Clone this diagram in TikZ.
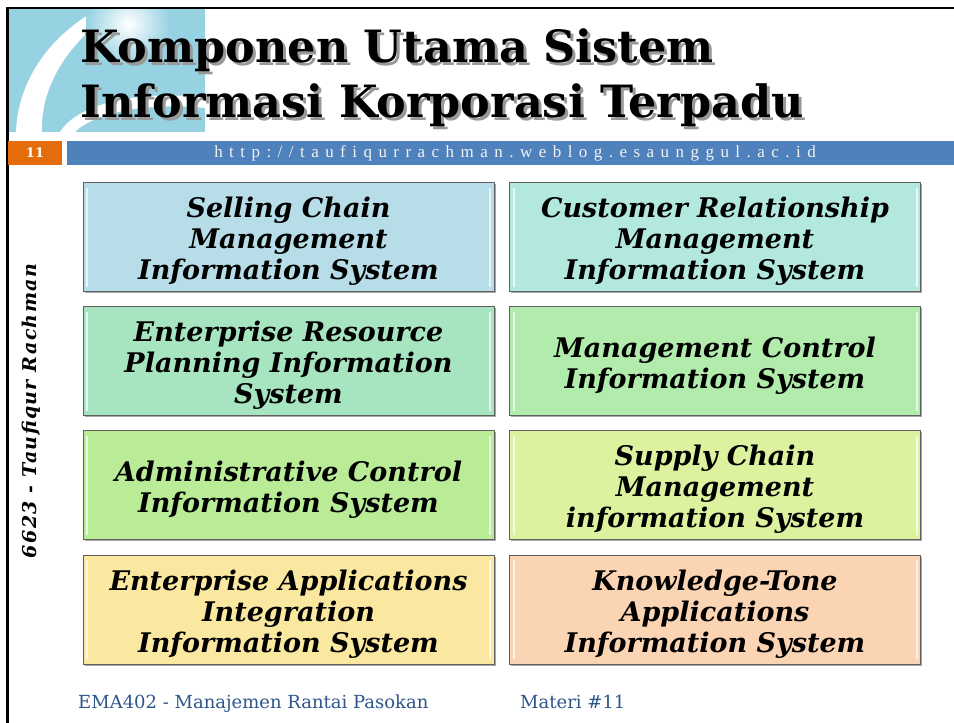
\documentclass[tikz,border=0pt]{standalone}
\usepackage{fontspec}
\usepackage{tikz}
\usetikzlibrary{shadows}

\newfontfamily\serifwide{DejaVu Serif}
\newfontfamily\authorfont[LetterSpace=7]{DejaVu Serif}
\newfontfamily\urlfont[LetterSpace=38]{Liberation Serif}
\newcommand\shadowtext[1]{\makebox[0pt][l]{\hspace{3pt}\raisebox{-3pt}{\textcolor{black!40}{#1}}}#1}

\definecolor{logoblue}{RGB}{150,210,226}
\definecolor{slideorange}{RGB}{228,108,10}
\definecolor{slideblue}{RGB}{79,129,189}
\definecolor{footblue}{RGB}{46,86,140}
\definecolor{boxedge}{RGB}{96,96,96}
\definecolor{cSCM}{RGB}{183,221,232}
\definecolor{cCRM}{RGB}{178,232,222}
\definecolor{cERP}{RGB}{166,229,192}
\definecolor{cMCIS}{RGB}{178,236,172}
\definecolor{cACIS}{RGB}{186,236,152}
\definecolor{cSupply}{RGB}{221,242,158}
\definecolor{cEAI}{RGB}{250,232,160}
\definecolor{cKnow}{RGB}{251,212,180}

\tikzset{
  sysbox/.style={draw=boxedge, line width=1pt, minimum width=411pt, minimum height=109pt,
    align=center, font={\serifwide\bfseries\itshape\fontsize{27}{31}\selectfont},
    drop shadow={shadow xshift=1.5pt, shadow yshift=-1.5pt, opacity=.35, fill=black},
    path picture={
      \draw[white, opacity=.7, line width=2pt]
        ([xshift=4pt,yshift=-5pt]path picture bounding box.north west) --
        ([xshift=4pt,yshift=5pt]path picture bounding box.south west);
      \draw[white, opacity=.7, line width=2pt]
        ([xshift=-4pt,yshift=-5pt]path picture bounding box.north east) --
        ([xshift=-4pt,yshift=5pt]path picture bounding box.south east);}},
  titletext/.style={anchor=base west, inner sep=0pt, font={\serifwide\bfseries\fontsize{44.5}{55}\selectfont}},
  foottext/.style={anchor=base west, inner sep=0pt, text=footblue, font={\serifwide\fontsize{18}{20}\selectfont}}
}

\begin{document}
\begin{tikzpicture}[x=1pt, y=-1pt]
  \useasboundingbox[fill=white] (0,0) rectangle (954,723);

  % logo
  \begin{scope}
    \clip (8,8) rectangle (205,132);
    \fill[logoblue] (8,8) rectangle (205,132);
    \fill[white] (16,132) .. controls (18,80) and (50,35) .. (100,8)
      -- (118,8) .. controls (70,40) and (40,85) .. (42,132) -- cycle;
    \shade[inner color=white, outer color=logoblue] (128,24) circle (42);
    \fill[white] (60,132) .. controls (80,100) and (150,90) .. (205,98)
      -- (205,108) .. controls (150,102) and (95,112) .. (75,132) -- cycle;
  \end{scope}

  % frame
  \draw[line width=2.5pt] (954,8) -- (7.5,8) -- (7.5,723);

  % title
  \node[titletext] (title1) at (80,62) {\shadowtext{Komponen Utama Sistem}};
  \node[titletext] (title2) at (80,117) {\shadowtext{Informasi Korporasi Terpadu}};

  % header bar
  \fill[slideorange] (8,141) rectangle (62,165);
  \fill[slideblue] (67,141) rectangle (954,165);
  \node[text=white, font={\serifwide\bfseries\fontsize{13}{13}\selectfont}] (page) at (35,153) {11};
  \node[text=white!95!black, font={\urlfont\fontsize{17}{17}\selectfont}] (url) at (515,153)
    {http://taufiqurrachman.weblog.esaunggul.ac.id};

  % side label
  \node[rotate=90, font={\authorfont\bfseries\itshape\fontsize{19}{19}\selectfont}] (author) at (31,411)
    {6623 - Taufiqur Rachman};

  % component boxes
  \foreach \nm/\cx/\cy/\clr/\txt in {
      scm/288.5/237/cSCM/{Selling Chain\\Management\\Information System},
      crm/715/237/cCRM/{Customer Relationship\\Management\\Information System},
      erp/288.5/361/cERP/{Enterprise Resource\\Planning Information\\System},
      mcis/715/361/cMCIS/{Management Control\\Information System},
      acis/288.5/485/cACIS/{Administrative Control\\Information System},
      supply/715/485/cSupply/{Supply Chain\\Management\\information System},
      eai/288.5/609.5/cEAI/{Enterprise Applications\\Integration\\Information System},
      know/715/609.5/cKnow/{Knowledge-Tone\\Applications\\Information System}}
    \node[sysbox, fill=\clr] (\nm) at (\cx,\cy) {\rule{0pt}{29pt}\txt};

  % footer
  \node[foottext] (course) at (78,708) {EMA402 - Manajemen Rantai Pasokan};
  \node[foottext] (materi) at (520,708) {Materi \#11};
\end{tikzpicture}
\end{document}
